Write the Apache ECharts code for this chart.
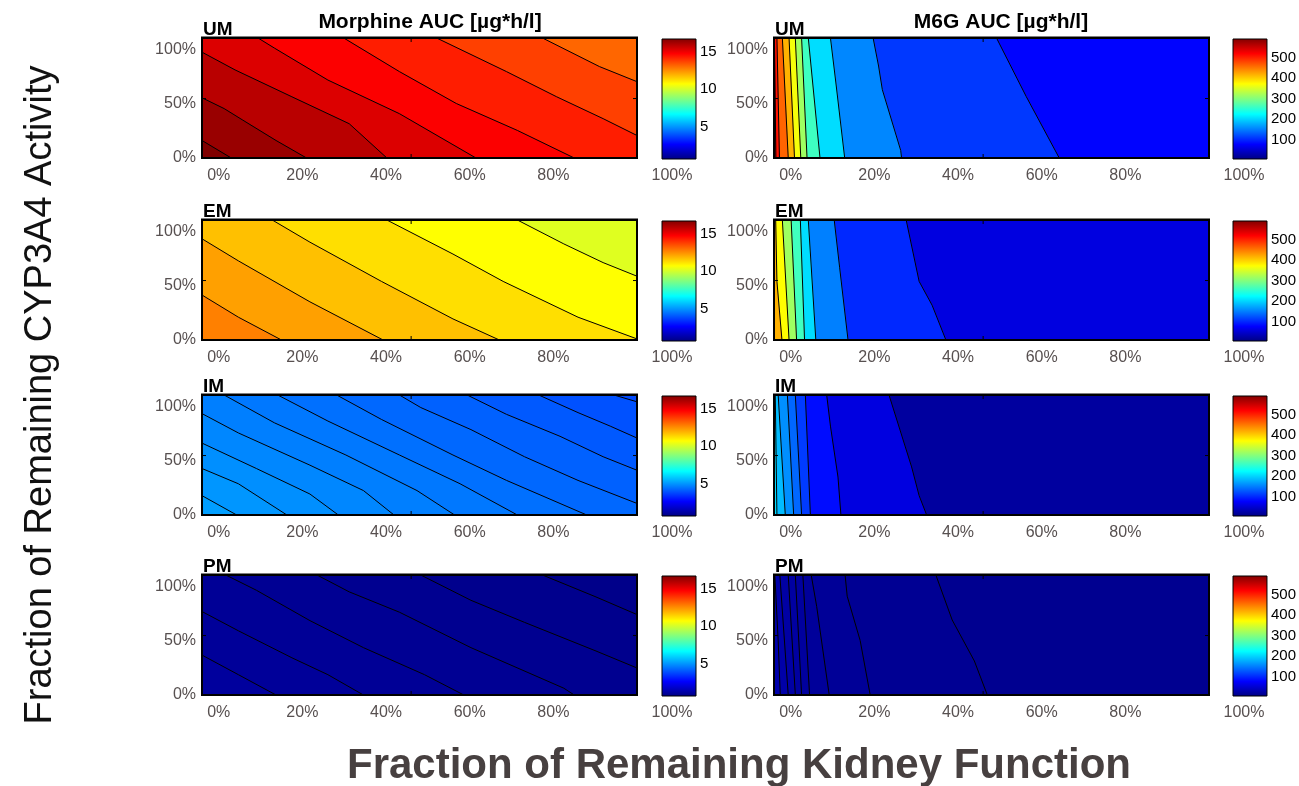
<!DOCTYPE html>
<html>
<head>
<meta charset="utf-8">
<script src="https://cdn.jsdelivr.net/npm/echarts@6/dist/echarts.min.js"></script>
<style>
html,body{margin:0;padding:0;background:#fff;}
#chart{width:1299px;height:786px;}
</style>
</head>
<body>
<div id="chart"></div>
<script>
// ---------------- data ----------------
const phenotypes = ['UM', 'EM', 'IM', 'PM'];
const panelTitles = ['Morphine AUC [µg*h/l]', 'M6G AUC [µg*h/l]'];
const xTicks = [0, 20, 40, 60, 80, 100];
const yTicks = [0, 50, 100];
const xRange = [-4, 100];
const yRange = [0, 111];
const morphineRange = [0.7, 16.7];
const m6gRange = [5, 590];
const morphineBarTicks = [5, 10, 15];
const m6gBarTicks = [100, 200, 300, 400, 500];
const innerTickX = [46];
const innerTickY = [55];

// contour lines (x = kidney function %, y = CYP3A4 activity %), ordered from upper-right to lower-left
// levels[0] = region beyond the first line, levels[i+1] = region on the lower-left side of line i
const morphineUM_lines = [
  [[77.4,111],[91,84.6],[100,70.6]],
  [[52.1,111],[68.8,79.9],[80.8,56.6],[91.9,36.4],[100,20.8]],
  [[29.9,111],[43.2,79.9],[56.8,50.4],[71.4,25.5],[85,0]],
  [[9.4,111],[13.3,101.7],[26.1,72.1],[43.2,41],[61.5,0]],
  [[-4,97.9],[3.9,81.5],[17.5,56.6],[31.2,31.7],[40.2,0]],
  [[-4,55.7],[1.3,45.7],[5.6,35.4],[13.7,16.2],[21,0]],
  [[-4,16.2],[3,0]]
];
const morphineUM_levels = [13.1, 13.7, 14.25, 14.75, 15.25, 15.8, 16.3, 16.7];

const morphineEM_lines = [
  [[71.4,111],[82.5,88.9],[91.9,71.6],[100,59]],
  [[40.2,111],[56,79.5],[68,54.2],[85.9,21.1],[100,1]],
  [[12.8,111],[21.8,90.5],[38.9,54.2],[56,19.5],[67.1,0]],
  [[-4,93.6],[4.7,73.2],[21.8,35.3],[39.3,0]],
  [[-4,41.6],[4.7,21.1],[15,0]]
];
const morphineEM_levels = [10.2, 10.7, 11.2, 11.7, 12.2, 12.7];

const morphineIM_lines = [
  [[94.5,111],[100,104.7]],
  [[76.5,111],[85.9,94.7],[93.6,82.2],[100,71.2]],
  [[59.4,111],[68.8,93.1],[81.6,72.8],[91.9,53.9],[100,41.4]],
  [[43.2,111],[48.3,99.4],[60.3,79],[73.1,53.9],[85.9,32],[100,10.7]],
  [[28.2,111],[38.9,88.4],[56,55.5],[68.8,32],[88,0]],
  [[14.1,111],[26.1,86.9],[43.2,55.5],[57.7,28.9],[71.4,0]],
  [[1.3,111],[13.3,85.3],[30.4,55.5],[47.4,22.6],[56.4,0]],
  [[-4,93.8],[4.7,75.9],[21.8,46.1],[34.6,22.6],[41.9,0]],
  [[-4,66.5],[9,43],[21.8,19.4],[28.6,0]],
  [[-4,43],[4.7,28.9],[16.3,0]],
  [[-4,17.9],[4.3,0]]
];
const morphineIM_levels = [3.85, 3.97, 4.09, 4.21, 4.33, 4.45, 4.57, 4.69, 4.81, 4.93, 5.05, 5.17];

const morphinePM_lines = [
  [[77.4,111],[90.2,90.7],[100,74.4]],
  [[48.3,111],[60.3,87.6],[73.1,67.2],[90.2,40.7],[100,25]],
  [[23.5,111],[31.2,95.4],[43.2,76.6],[60.3,43.8],[82.5,6.3],[85,0]],
  [[1.7,111],[9,96.9],[21.8,68.8],[34.6,43.8],[49.2,18.8],[58.6,0]],
  [[-4,77.2],[4.7,59.4],[17.5,34.4],[26.1,18.8],[34.6,0]],
  [[-4,36.9],[4.7,18.8],[13.7,0]]
];
const morphinePM_levels = [0.85, 0.9, 0.95, 1.0, 1.05, 1.1, 1.15];

const m6gUM_lines = [
  [[49.2,111],[56.3,56.9],[64.2,0]],
  [[19.7,111],[21,85.1],[21.9,63.2],[26.3,6.9],[26.5,0]],
  [[9.5,111],[10.8,69.4],[12.9,0]],
  [[4.2,111],[7,0]],
  [[2.6,111],[3.9,0]],
  [[1.1,111],[2.4,0]],
  [[-0.4,111],[0.9,0]],
  [[-2,111],[-0.6,0]],
  [[-3.3,111],[-2.7,0]],
  [[-3.9,111],[-3.55,0]]
];
const m6gUM_levels = [80, 110, 155, 205, 260, 315, 365, 415, 460, 508, 555];

const m6gEM_lines = [
  [[27.6,111],[30.7,54.2],[33.8,32.2],[37.1,0]],
  [[10.4,111],[11.7,66.8],[13.7,0]],
  [[4.2,111],[6,0]],
  [[2.3,111],[3.3,0]],
  [[0.1,111],[1.4,0]],
  [[-2,111],[-0.4,0]],
  [[-3.6,111],[-3.3,54.2],[-2.1,0]]
];
const m6gEM_levels = [60, 101, 151, 205, 261, 315, 371, 416];

const m6gIM_lines = [
  [[23.5,111],[28.9,44.5],[30.7,17.9],[32.5,0]],
  [[8.6,111],[9.5,82.2],[11.3,35.1],[12,0]],
  [[3.5,111],[4.7,0]],
  [[1.1,111],[2.6,0]],
  [[-0.8,111],[0.7,0]],
  [[-3,111],[-1.3,0]],
  [[-3.7,111],[-3.3,0]]
];
const m6gIM_levels = [23, 60, 85, 112, 137, 160, 185, 205];

const m6gPM_lines = [
  [[34.7,111],[38.6,69.4],[43.9,31.5],[47,0]],
  [[13,111],[13.5,91.4],[16.6,50.4],[19,0]],
  [[4.9,111],[6.2,82],[9.2,0]],
  [[2.9,111],[4.5,0]],
  [[1.1,111],[2.6,0]],
  [[-0.6,111],[1.1,0]],
  [[-2.6,111],[-0.6,0]],
  [[-3.8,111],[-3,50],[-2.5,0]]
];
const m6gPM_levels = [14, 16, 18, 20, 22, 24, 26, 28, 30];

// ---------------- build ----------------
const panels = [
  {lines: morphineUM_lines, levels: morphineUM_levels},
  {lines: morphineEM_lines, levels: morphineEM_levels},
  {lines: morphineIM_lines, levels: morphineIM_levels},
  {lines: morphinePM_lines, levels: morphinePM_levels},
  {lines: m6gUM_lines, levels: m6gUM_levels},
  {lines: m6gEM_lines, levels: m6gEM_levels},
  {lines: m6gIM_lines, levels: m6gIM_levels},
  {lines: m6gPM_lines, levels: m6gPM_levels}
];
const barRanges = [morphineRange, m6gRange];
const barTicks = [morphineBarTicks, m6gBarTicks];

const FONT = '"Liberation Sans", Arial, Helvetica, sans-serif';
const TICK_COLOR = '#575050';
const jet = ['#000080', '#0000ff', '#0080ff', '#00ffff', '#80ff80', '#ffff00', '#ff8000', '#ff0000', '#800000'];
const jetStops = jet.map((c, i) => ({offset: i / (jet.length - 1), color: c}));

const rowTops = [38, 220, 395, 575];
const plotLefts = [202, 774];
const barLefts = [662, 1233];
const PLOT_W = 435, PLOT_H = 120, BAR_W = 34;

const grid = [], xAxis = [], yAxis = [], series = [];

function fillRender(params, api) {
  const panel = panels[params.seriesIndex];
  const i = params.dataIndex;
  const [X0, X1] = xRange, [Y0, Y1] = yRange;
  let pts, line = null;
  if (i === 0) {
    pts = [[X0, Y0], [X0, Y1], [X1, Y1], [X1, Y0]];
  } else {
    line = panel.lines[i - 1];
    pts = line.slice();
    const s = line[0], e = line[line.length - 1];
    if (e[0] >= X1) pts.push([X1, Y0]);
    pts.push([X0, Y0]);
    if (s[1] >= Y1) pts.push([X0, Y1]);
  }
  const color = api.visual('color');
  const children = [{
    type: 'polygon',
    shape: {points: pts.map(q => api.coord(q))},
    style: {fill: color, stroke: color, lineWidth: 0.6}
  }];
  if (line) {
    children.push({
      type: 'polyline', z2: 5,
      shape: {points: line.map(q => api.coord(q))},
      style: {stroke: '#000', lineWidth: 1, fill: null}
    });
  }
  if (i === panel.levels.length - 1) {
    const tl = api.coord([X0, Y1]), br = api.coord([X1, Y0]);
    children.push({
      type: 'rect', z2: 10,
      shape: {x: tl[0], y: tl[1], width: br[0] - tl[0], height: br[1] - tl[1]},
      style: {fill: null, stroke: '#000', lineWidth: 2}
    });
    children.push({
      type: 'line', z2: 11,
      shape: {x1: tl[0] - 1, y1: tl[1] - 0.5, x2: br[0] + 1, y2: tl[1] - 0.5},
      style: {stroke: '#000', lineWidth: 2}
    });
    innerTickX.forEach(v => {
      const b = api.coord([v, Y0]), t = api.coord([v, Y1]);
      children.push({type: 'line', z2: 10, shape: {x1: b[0], y1: b[1], x2: b[0], y2: b[1] - 4}, style: {stroke: '#000', lineWidth: 1}});
      children.push({type: 'line', z2: 10, shape: {x1: t[0], y1: t[1], x2: t[0], y2: t[1] + 4}, style: {stroke: '#000', lineWidth: 1}});
    });
    innerTickY.forEach(v => {
      const l = api.coord([X0, v]), r = api.coord([X1, v]);
      children.push({type: 'line', z2: 10, shape: {x1: l[0], y1: l[1], x2: l[0] + 4, y2: l[1]}, style: {stroke: '#000', lineWidth: 1}});
      children.push({type: 'line', z2: 10, shape: {x1: r[0], y1: r[1], x2: r[0] - 4, y2: r[1]}, style: {stroke: '#000', lineWidth: 1}});
    });
  }
  return {type: 'group', children};
}

function barRender(params, api) {
  const c = params.seriesIndex >= 12 ? 1 : 0;
  const rng = barRanges[c];
  const tl = api.coord([0, rng[1]]), br = api.coord([1, rng[0]]);
  return {
    type: 'rect',
    shape: {x: tl[0], y: tl[1], width: br[0] - tl[0], height: br[1] - tl[1]},
    style: {
      fill: {type: 'linear', x: 0, y: 1, x2: 0, y2: 0, colorStops: jetStops},
      stroke: '#000', lineWidth: 1
    }
  };
}

const lastX = xTicks[xTicks.length - 1];
// plot grids 0..7
for (let c = 0; c < 2; c++) {
  for (let r = 0; r < 4; r++) {
    const p = c * 4 + r;
    grid.push({left: plotLefts[c], top: rowTops[r], width: PLOT_W, height: PLOT_H});
    xAxis.push({
      gridIndex: p, type: 'value', min: xRange[0], max: xRange[1],
      axisLine: {show: false}, axisTick: {show: false}, splitLine: {show: false},
      axisLabel: {
        customValues: xTicks, margin: 10, color: TICK_COLOR, fontSize: 16, fontFamily: FONT,
        formatter: v => v === lastX ? '{last|' + v + '%}' : v + '%',
        rich: {last: {padding: [0, 0, 0, 70], color: TICK_COLOR, fontSize: 16, fontFamily: FONT}}
      }
    });
    yAxis.push({
      gridIndex: p, type: 'value', min: yRange[0], max: yRange[1],
      axisLine: {show: false}, axisTick: {show: false}, splitLine: {show: false},
      axisLabel: {customValues: yTicks, margin: 6, color: TICK_COLOR, fontSize: 16, fontFamily: FONT, formatter: '{value}%'}
    });
    series.push({
      type: 'custom', coordinateSystem: 'cartesian2d', xAxisIndex: p, yAxisIndex: p,
      data: panels[p].levels.map((v, i) => [i, i, v]),
      encode: {x: 0, y: 1},
      renderItem: fillRender, silent: true
    });
  }
}
// colorbar grids 8..15
for (let c = 0; c < 2; c++) {
  for (let r = 0; r < 4; r++) {
    const g = 8 + c * 4 + r;
    grid.push({left: barLefts[c], top: rowTops[r] + 1, width: BAR_W, height: PLOT_H});
    xAxis.push({gridIndex: g, type: 'value', min: 0, max: 1, show: false});
    yAxis.push({
      gridIndex: g, type: 'value', position: 'right', min: barRanges[c][0], max: barRanges[c][1],
      axisLine: {show: false}, axisTick: {show: false}, splitLine: {show: false},
      axisLabel: {customValues: barTicks[c], margin: 4, color: '#000', fontSize: 15, fontFamily: FONT}
    });
    series.push({
      type: 'custom', coordinateSystem: 'cartesian2d', xAxisIndex: g, yAxisIndex: g,
      data: [[0, barRanges[c][0]]], encode: {x: 0, y: 1},
      renderItem: barRender, silent: true
    });
  }
}

const graphic = [];
const titleX = [430, 1001];
panelTitles.forEach((t, c) => graphic.push({
  type: 'text', x: titleX[c], y: 22,
  style: {text: t, align: 'center', verticalAlign: 'middle', font: 'bold 21px ' + FONT, fill: '#000'}
}));
for (let c = 0; c < 2; c++) {
  phenotypes.forEach((ph, r) => graphic.push({
    type: 'text', x: plotLefts[c] + 1, y: rowTops[r] - 8,
    style: {text: ph, align: 'left', verticalAlign: 'middle', font: 'bold 19px ' + FONT, fill: '#000'}
  }));
}
graphic.push({
  type: 'text', x: 739, y: 766,
  style: {text: 'Fraction of Remaining Kidney Function', align: 'center', verticalAlign: 'middle', font: 'bold 42px ' + FONT, fill: '#474040'}
});
graphic.push({
  type: 'text', x: 41, y: 395, rotation: Math.PI / 2,
  style: {text: 'Fraction of Remaining CYP3A4 Activity', align: 'center', verticalAlign: 'middle', font: '38px ' + FONT, fill: '#111'}
});

const option = {
  animation: false,
  backgroundColor: '#fff',
  grid, xAxis, yAxis, series, graphic,
  visualMap: [
    {type: 'continuous', show: false, min: morphineRange[0], max: morphineRange[1], dimension: 2,
     seriesIndex: [0, 1, 2, 3], inRange: {color: jet}},
    {type: 'continuous', show: false, min: m6gRange[0], max: m6gRange[1], dimension: 2,
     seriesIndex: [4, 5, 6, 7], inRange: {color: jet}}
  ]
};

const chart = echarts.init(document.getElementById('chart'), null, {renderer: 'canvas'});
chart.setOption(option);
</script>
</body>
</html>
